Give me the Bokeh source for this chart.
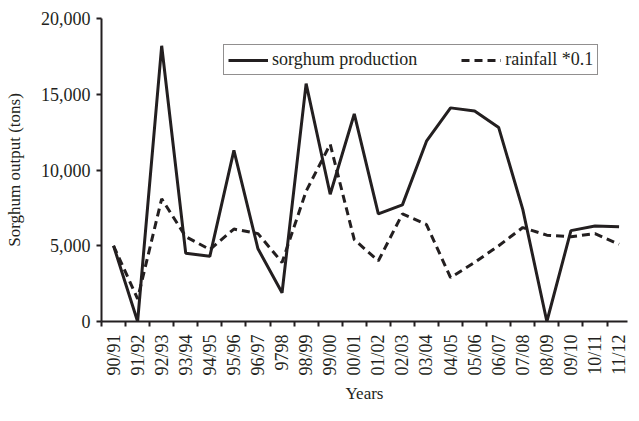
import math
from bokeh.plotting import figure
from bokeh.models import (FixedTicker, NumeralTickFormatter, Range1d, Legend,
                          LegendItem, ColumnDataSource)
from bokeh.embed import file_html
from bokeh.resources import INLINE

# ---- data ----
years = ["90/91", "91/92", "92/93", "93/94", "94/95", "95/96", "96/97", "9798",
         "98/99", "99/00", "00/01", "01/02", "02/03", "03/04", "04/05", "05/06",
         "06/07", "07/08", "08/09", "09/10", "10/11", "11/12"]
sorghum = [5000, 0, 18200, 4500, 4300, 11300, 4800, 1900, 15700, 8400, 13700,
           7100, 7700, 11900, 14100, 13900, 12800, 7400, 0, 6000, 6300, 6250]
rainfall = [5000, 1500, 8100, 5600, 4750, 6100, 5800, 3900, 8600, 11700, 5400,
            4000, 7100, 6400, 2900, 3900, 5000, 6200, 5700, 5600, 5800, 5100]
y_ticks = [0, 5000, 10000, 15000, 20000]
series_labels = ["sorghum production", "rainfall *0.1"]

INK = "#231f20"
FONT = "Liberation Serif"

xs = list(range(len(years)))
src = ColumnDataSource(dict(x=xs, sorghum=sorghum, rainfall=rainfall))

p = figure(width=631, height=405, output_backend="svg", toolbar_location=None,
           x_range=Range1d(-0.5, len(years) - 0.65), y_range=Range1d(0, 20000),
           min_border_left=101, min_border_right=4, min_border_top=18,
           min_border_bottom=82)
p.outline_line_color = None
p.xgrid.visible = False
p.ygrid.visible = False
p.background_fill_color = "white"
p.border_fill_color = "white"

r1 = p.line("x", "sorghum", source=src, line_width=3, line_color=INK)
r2 = p.line("x", "rainfall", source=src, line_width=3, line_color=INK,
            line_dash="8 5")

# x axis
xa = p.xaxis[0]
xa.ticker = FixedTicker(ticks=xs, minor_ticks=[i - 0.5 for i in range(len(years) + 1)])
xa.major_label_overrides = {i: lab for i, lab in enumerate(years)}
xa.major_label_orientation = math.pi / 2
xa.major_tick_out = 0
xa.major_tick_in = 0
xa.major_tick_line_color = None
xa.minor_tick_out = 5
xa.minor_tick_in = 0
xa.minor_tick_line_width = 2
xa.minor_tick_line_color = INK
xa.axis_line_width = 2
xa.axis_line_color = INK
xa.major_label_standoff = 8
xa.major_label_text_font = FONT
xa.major_label_text_font_size = "18px"
xa.major_label_text_color = INK
xa.axis_label = "Years"
xa.axis_label_text_font = FONT
xa.axis_label_text_font_size = "17px"
xa.axis_label_text_font_style = "normal"
xa.axis_label_text_color = INK
xa.axis_label_standoff = 5

# y axis
ya = p.yaxis[0]
ya.ticker = FixedTicker(ticks=y_ticks)
ya.formatter = NumeralTickFormatter(format="0,0")
ya.major_tick_out = 5
ya.major_tick_in = 0
ya.major_tick_line_width = 2
ya.major_tick_line_color = INK
ya.minor_tick_line_color = None
ya.axis_line_width = 2
ya.axis_line_color = INK
ya.major_label_standoff = 6
ya.major_label_text_font = FONT
ya.major_label_text_font_size = "18px"
ya.major_label_text_color = INK
ya.axis_label = "Sorghum output (tons)"
ya.axis_label_text_font = FONT
ya.axis_label_text_font_size = "17px"
ya.axis_label_text_font_style = "normal"
ya.axis_label_text_color = INK
ya.axis_label_standoff = 14

legend = Legend(items=[LegendItem(label=series_labels[0], renderers=[r1]),
                       LegendItem(label=series_labels[1], renderers=[r2])],
                orientation="horizontal", location=(122, 246), padding=4,
                spacing=44, label_standoff=4, glyph_width=40, glyph_height=18,
                label_height=18, margin=0, border_line_color=INK,
                border_line_width=1, background_fill_color="white",
                background_fill_alpha=1, label_text_font=FONT,
                label_text_font_size="18px", label_text_color=INK)
p.add_layout(legend)

open("out.html", "w").write(file_html(p, INLINE))
